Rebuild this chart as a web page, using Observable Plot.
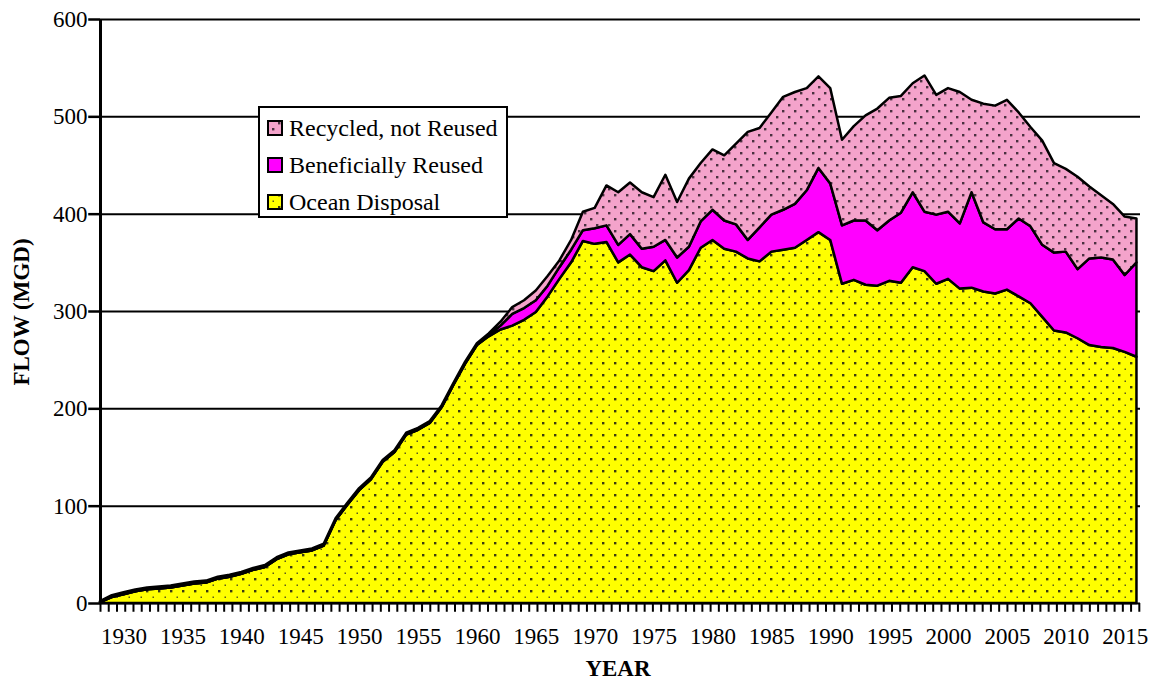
<!DOCTYPE html>
<html><head><meta charset="utf-8">
<script src="https://cdn.jsdelivr.net/npm/d3@7"></script>
<script src="https://cdn.jsdelivr.net/npm/@observablehq/plot@0.6"></script>
<style>html,body{margin:0;padding:0;background:#fff;}</style>
</head><body><div id="chart"></div>
<script>
const years = [1928,1929,1930,1931,1932,1933,1934,1935,1936,1937,1938,1939,1940,1941,1942,1943,1944,1945,1946,1947,1948,1949,
1950,1951,1952,1953,1954,1955,1956,1957,1958,1959,1960,1961,1962,1963,1964,1965,1966,1967,1968,1969,
1970,1971,1972,1973,1974,1975,1976,1977,1978,1979,1980,1981,1982,1983,1984,1985,1986,1987,1988,1989,
1990,1991,1992,1993,1994,1995,1996,1997,1998,1999,2000,2001,2002,2003,2004,2005,2006,2007,2008,2009,
2010,2011,2012,2013,2014,2015,2016];

const ocean = [1,6,9,12,14,15,16,18,20,21,25,27,30,34,37,45,50,52,54,59,85,101,
116,127,145,155,173,178,185,201,224,246,265,274,281,285,291,299,315,333,350,372,
369,371,350,358,345,341,352,329,342,365,373,364,361,354,351,361,363,365,373,381,
373,328,332,327,326,331,329,345,341,328,333,323,324,320,318,322,315,308,294,280,
278,272,265,263,262,258,253];

const reused = [0,0,0,0,0,0,0,0,0,0,0,0,0,0,0,0,0,0,0,0,0,0,
0,0,0,0,0,0,0,0,0,0,0,1,4,12,12,12,11,12,13,11,
16,17,18,21,19,25,21,26,24,27,31,29,28,19,35,38,41,45,51,66,
58,60,61,66,57,62,72,77,61,71,69,67,98,71,66,62,80,79,74,80,
83,71,89,92,91,79,97];

const recycled = [1,2,2,2,2,2,2,2,2,2,2,2,2,2,2,2,2,2,2,2,2,2,
2,2,2,2,2,2,2,2,2,2,2,2,4,7,8,10,10,7,10,19,
21,41,54,53,58,51,67,57,70,60,62,67,83,111,102,105,116,115,105,94,
98,88,97,108,125,126,120,112,140,123,127,135,95,122,127,133,109,102,107,92,
85,95,74,64,57,60,45];

const seriesNames = ["Ocean Disposal","Beneficially Reused","Recycled, not Reused"];
const legendOrder = ["Recycled, not Reused","Beneficially Reused","Ocean Disposal"];
const yTicks = [0,100,200,300,400,500,600];
const xLabelTicks = [1930,1935,1940,1945,1950,1955,1960,1965,1970,1975,1980,1985,1990,1995,2000,2005,2010,2015];
const fills = {"Ocean Disposal":"url(#patYellow)","Beneficially Reused":"#FF00FF","Recycled, not Reused":"url(#patPink)"};

const valuesBySeries = {"Ocean Disposal":ocean,"Beneficially Reused":reused,"Recycled, not Reused":recycled};
const long = [];
years.forEach((yr,i)=>{ seriesNames.forEach(s=>long.push({year:yr, series:s, value:valuesBySeries[s][i]})); });
const xMinorTicks = d3.range(1928, 2016.35, 0.7);
const SERIF = "Liberation Serif, Times New Roman, serif";

const plot = Plot.plot({
  width:1152, height:681, marginLeft:100, marginRight:12, marginTop:19, marginBottom:78,
  style:{fontFamily:SERIF},
  x:{domain:[1928,2016.3], axis:null}, y:{domain:[0,600], axis:null},
  color:{domain:seriesNames, range:seriesNames.map(s=>fills[s])},
  marks:[
    Plot.ruleY(yTicks, {stroke:"#000", strokeWidth:2}),
    Plot.areaY(long, {x:"year", y:"value", fill:"series", order:seriesNames, stroke:"#000", strokeWidth:2.5, strokeLinejoin:"round"}),
    Plot.ruleX(xMinorTicks, {y1:0, y2:-9, stroke:"#000", strokeWidth:2}),
    Plot.ruleY(yTicks, {x1:1927, x2:1928, stroke:"#000", strokeWidth:2.5}),
    Plot.ruleX([1928], {y1:0, y2:600, stroke:"#000", strokeWidth:3}),
    Plot.text(yTicks, {x:1928, y:d=>d, dx:-13, textAnchor:"end", fontSize:23, fill:"#000"}),
    Plot.text(xLabelTicks, {x:d=>d, y:0, dy:33, fontSize:23, fill:"#000", text:d=>String(d)})
  ]
});
document.getElementById("chart").appendChild(plot);

const svg = d3.select(plot);
const defs = svg.insert("defs", ":first-child");
const py = defs.append("pattern").attr("id","patYellow").attr("patternUnits","userSpaceOnUse").attr("width",12).attr("height",12);
py.append("rect").attr("width",12).attr("height",12).attr("fill","#FFFF00");
py.append("rect").attr("x",2).attr("y",2).attr("width",2.4).attr("height",2.4).attr("fill","#3a3a10");
py.append("rect").attr("x",8.5).attr("y",8.5).attr("width",1.5).attr("height",1.5).attr("fill","#5a5a20");
const pp = defs.append("pattern").attr("id","patPink").attr("patternUnits","userSpaceOnUse").attr("width",12).attr("height",12);
pp.append("rect").attr("width",12).attr("height",12).attr("fill","#F4A3CB");
pp.append("rect").attr("x",2).attr("y",2).attr("width",2.4).attr("height",2.4).attr("fill","#4a3040");
pp.append("rect").attr("x",8).attr("y",8).attr("width",2.4).attr("height",2.4).attr("fill","#4a3040");

// axis titles
svg.append("text").attr("transform","translate(29,312) rotate(-90)").attr("text-anchor","middle")
  .attr("font-family",SERIF).attr("font-weight","bold").attr("font-size",23).attr("fill","#000").text("FLOW (MGD)");
svg.append("text").attr("x",618).attr("y",676).attr("text-anchor","middle")
  .attr("font-family",SERIF).attr("font-weight","bold").attr("font-size",23).attr("fill","#000").text("YEAR");

// legend
const lg = svg.append("g").attr("text-anchor","start").attr("font-family",SERIF);
lg.append("rect").attr("x",259).attr("y",107).attr("width",248).attr("height",110).attr("fill","#fff").attr("stroke","#000").attr("stroke-width",2);
legendOrder.forEach((s,i)=>{
  const cy = 128 + i*37;
  lg.append("rect").attr("x",268).attr("y",cy-7).attr("width",14).attr("height",14).attr("fill",fills[s]).attr("stroke","#000").attr("stroke-width",2);
  lg.append("text").attr("x",289).attr("y",cy+8).attr("text-anchor","start").attr("font-family",SERIF).attr("font-size",24).attr("fill","#000").text(s);
});
</script></body></html>
